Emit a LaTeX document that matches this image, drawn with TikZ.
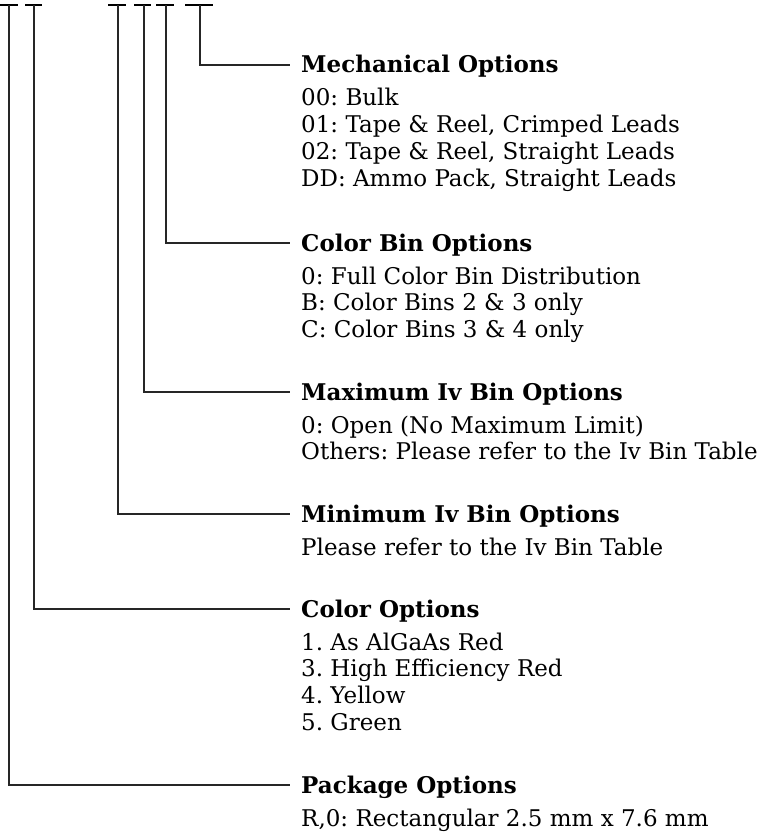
\documentclass[tikz,border=0pt]{standalone}
\usepackage{fontspec}
\setmainfont{DejaVu Serif}
\frenchspacing
\begin{document}
\begin{tikzpicture}[x=1pt,y=-1pt,
  bar/.style={line width=2.2pt},
  lead/.style={line width=1.2pt, draw=black!85},
  block/.style={anchor=base west, inner sep=0pt, font=\frenchspacing\fontsize{23}{26.7}\selectfont}]
\useasboundingbox (0,0) rectangle (764,832);
% top bars
\coordinate (p) at (9,5);
\coordinate (c) at (34,5);
\coordinate (mn) at (118,5);
\coordinate (mx) at (144,5);
\coordinate (cb) at (166,5);
\coordinate (me) at (200,5);
\draw[bar] (0,5) -- (18,5);
\draw[bar] (25,5) -- (42,5);
\draw[bar] (108,5) -- (126,5);
\draw[bar] (134,5) -- (151,5);
\draw[bar] (156,5) -- (174,5);
\draw[bar] (185,5) -- (213,5);
% text blocks
\newcommand{\blk}[2]{\begin{tabular}[t]{@{}l@{}}\textbf{#1}\\[6.3pt]#2\end{tabular}}
\node[block] (tme) at (301,73) {\blk{Mechanical Options}{00: Bulk\\01: Tape \& Reel, Crimped Leads\\02: Tape \& Reel, Straight Leads\\DD: Ammo Pack, Straight Leads}};
\node[block] (tcb) at (301,251) {\blk{Color Bin Options}{0: Full Color Bin Distribution\\B: Color Bins 2 \& 3 only\\C: Color Bins 3 \& 4 only}};
\node[block] (tmx) at (301,400) {\blk{Maximum Iv Bin Options}{0: Open (No Maximum Limit)\\Others: Please refer to the Iv Bin Table}};
\node[block] (tmn) at (301,522) {\blk{Minimum Iv Bin Options}{Please refer to the Iv Bin Table}};
\node[block] (tc) at (301,617) {\blk{Color Options}{1. As AlGaAs Red\\3. High Efficiency Red\\4. Yellow\\5. Green}};
\node[block] (tp) at (301,793) {\blk{Package Options}{R,0: Rectangular 2.5 mm x 7.6 mm}};
% leaders
\draw[lead] (me) |- ([xshift=-11pt,yshift=8pt]tme.base west);
\draw[lead] (cb) |- ([xshift=-11pt,yshift=8pt]tcb.base west);
\draw[lead] (mx) |- ([xshift=-11pt,yshift=8pt]tmx.base west);
\draw[lead] (mn) |- ([xshift=-11pt,yshift=8pt]tmn.base west);
\draw[lead] (c) |- ([xshift=-11pt,yshift=8pt]tc.base west);
\draw[lead] (p) |- ([xshift=-11pt,yshift=8pt]tp.base west);
\end{tikzpicture}
\end{document}
